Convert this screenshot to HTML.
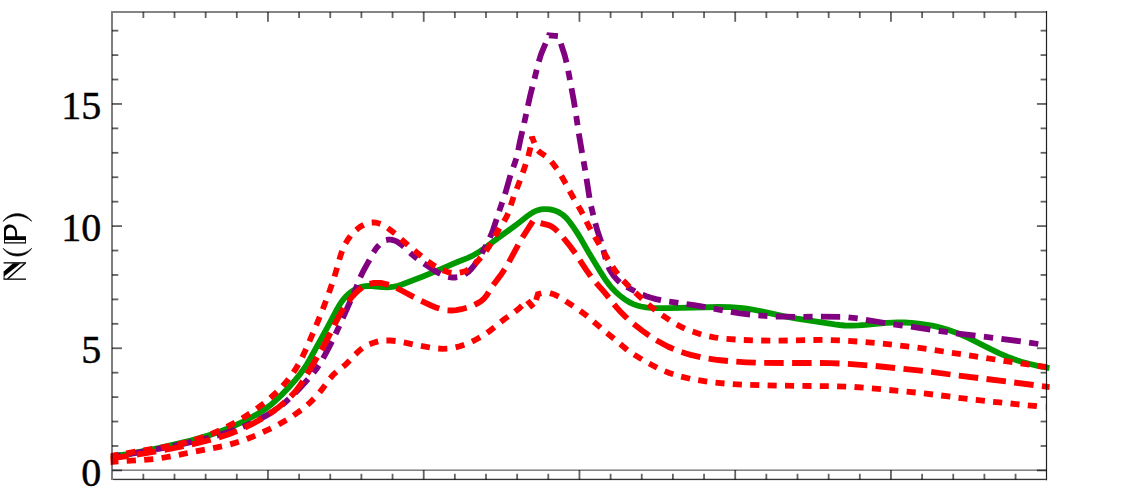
<!DOCTYPE html>
<html><head><meta charset="utf-8"><title>N(P)</title>
<style>
html,body{margin:0;padding:0;background:#fff;}
body{width:1148px;height:493px;overflow:hidden;font-family:"Liberation Serif",serif;}
svg{display:block;}
</style></head>
<body>
<svg width="1148" height="493" viewBox="0 0 1148 493">
<rect x="0" y="0" width="1148" height="493" fill="#ffffff"/>
<defs><clipPath id="cp"><rect x="110.7" y="0" width="939.1" height="493"/></clipPath></defs>
<g clip-path="url(#cp)">
<path d="M109.3 456.5L121.2 455.0L129.1 453.8L137.0 452.4L145.9 450.7L158.6 448.0L180.1 443.1L190.8 440.5L200.5 437.9L208.1 435.6L215.8 433.1L223.3 430.3L229.8 427.7L236.2 424.9L242.6 422.0L249.7 418.3L255.9 414.9L261.9 411.3L266.8 407.9L271.5 404.2L276.1 400.2L281.8 394.6L289.4 386.7L295.4 379.9L299.8 374.5L304.5 368.0L307.2 363.8L309.7 359.5L328.1 326.1L336.5 310.2L339.5 305.0L342.3 300.8L345.5 297.0L348.3 294.1L351.5 291.6L354.9 289.5L357.6 288.2L361.4 286.9L365.4 286.2L368.4 286.0L371.4 286.0L382.3 287.2L387.3 287.4L390.3 287.2L392.3 287.0L395.3 286.4L398.2 285.7L402.0 284.4L423.5 276.2L442.0 268.6L456.8 262.3L467.9 257.9L471.6 256.2L475.1 254.3L478.5 252.3L482.7 249.5L497.9 238.1L515.8 225.2L526.8 216.5L530.9 213.6L534.4 211.5L537.1 210.4L540.0 209.6L543.0 209.2L546.1 209.1L550.1 209.4L553.0 210.1L555.9 211.0L558.6 212.2L561.3 213.8L563.7 215.6L565.9 217.6L567.9 219.8L570.4 223.0L573.9 227.9L577.2 232.9L580.4 238.0L589.3 253.6L600.8 272.4L605.7 280.0L609.9 285.6L612.5 288.6L616.0 292.2L619.0 294.9L622.9 298.0L626.3 300.3L629.7 302.4L633.3 304.1L637.1 305.5L641.0 306.5L645.9 307.3L650.9 307.8L656.9 308.1L667.9 308.1L719.0 307.0L730.0 307.2L740.0 307.9L747.0 308.7L754.9 310.0L761.7 311.4L783.3 316.1L797.0 318.7L834.7 324.4L839.6 325.0L844.6 325.5L851.6 325.7L858.6 325.4L865.6 324.9L886.6 322.9L892.6 322.6L897.5 322.5L904.6 322.5L911.6 322.9L918.6 323.6L925.5 324.5L933.4 325.9L941.2 327.7L947.9 329.7L955.5 332.4L962.0 335.1L969.3 338.4L990.7 349.2L998.9 353.1L1007.2 356.6L1014.7 359.5L1021.3 361.7L1029.0 363.8L1037.8 365.8L1049.6 368.2" fill="none" stroke="#009900" stroke-width="5.8"/>
<path d="M111.6 456.8L120.6 455.4M128.7 454.1L147.8 450.9M155.9 449.4L165.0 447.7M173.0 446.1L191.9 441.9M199.9 440.0L208.9 437.8M216.8 435.6L225.9 432.9L235.2 429.8M242.9 426.8L251.4 423.2M258.8 419.7L267.4 414.9L271.6 412.3L275.4 409.8M282.0 404.9L285.3 402.2L289.0 398.9M294.9 393.2L300.4 387.5L308.1 379.1M313.5 372.8L316.2 369.3L318.9 365.4M323.1 358.4L327.4 350.4L332.0 341.4M335.6 334.0L339.4 325.7M342.7 318.3L350.5 300.8M353.8 293.3L357.3 284.9M360.3 277.3L363.3 271.0L369.5 259.9M373.5 252.3L376.1 248.4L377.4 246.8L379.2 244.9M386.1 240.1L388.0 239.7L390.1 239.6L392.1 239.9L395.0 240.7L396.9 241.6L399.4 243.2L401.8 245.1L403.9 246.9M410.1 252.8L413.6 255.9L417.2 258.8M424.0 263.5L434.1 270.3L437.5 272.4L440.4 273.9M448.2 276.9L450.8 277.4L452.8 277.5L454.8 277.5L457.3 277.2M464.8 274.3L466.9 272.9L468.5 271.7L471.4 268.9L474.5 265.0L477.5 260.4M481.7 253.3L486.2 245.3M489.9 237.7L491.4 234.2L493.2 229.5L496.6 219.1M499.2 211.1L502.3 202.2M505.0 194.2L506.4 189.5L510.4 175.2M513.3 167.2L514.9 162.8L516.3 158.4M518.2 150.3L520.2 140.4L522.3 131.2M524.2 123.0L526.2 113.9M527.9 105.8L530.0 96.4L532.4 86.8M534.5 78.7L536.7 69.7M538.8 61.6L540.3 56.6L541.6 52.8L545.6 43.4M548.9 35.6L549.0 35.3L557.9 36.2M560.9 43.6L564.7 55.4L566.5 62.5M568.2 70.8L570.0 80.0M571.5 88.2L573.4 98.6L574.9 107.6M576.2 116.0L577.6 125.2M578.8 133.5L582.1 152.9M583.6 161.3L585.2 170.5M586.5 178.7L589.5 197.9M591.1 206.2L593.3 215.2M595.3 223.2L597.4 230.7L601.2 241.9M603.4 250.0L605.7 259.0M608.4 266.8L609.3 268.9L610.8 271.6L613.6 275.8L616.9 279.6L619.8 282.3M626.8 287.0L635.0 291.3M642.5 294.8L646.4 296.3L651.2 297.8L656.0 299.1L661.0 300.2M669.2 301.6L678.4 302.8M686.5 304.0L695.6 305.4L705.6 307.2M713.8 308.7L722.8 310.4M730.9 311.8L740.0 313.3L750.1 314.5M758.4 315.4L767.5 316.1M775.8 316.5L785.0 316.7L795.1 316.8M803.4 316.8L812.6 316.7M820.9 316.7L840.2 316.8M848.5 317.3L857.7 318.4M865.9 319.8L885.2 323.0M893.5 324.3L902.7 325.6M911.0 326.7L930.3 329.6M938.7 330.8L947.9 332.2M956.1 333.3L975.5 335.7M983.9 336.7L993.1 337.8M1001.4 338.8L1020.8 341.4M1029.1 342.6L1038.3 344.0" fill="none" stroke="#800080" stroke-width="5.8" stroke-linejoin="miter"/>
<path d="M109.3 456.2L118.3 454.7M126.4 453.3L135.4 451.7M143.6 450.4L152.6 448.9M160.8 447.5L169.7 445.9M177.9 444.3L186.7 442.1M194.7 439.9L203.3 437.0M211.1 434.1L219.5 430.5M226.9 426.9L235.0 422.6M242.1 418.4L249.8 413.5M256.6 408.8L263.9 403.3M270.3 398.0L277.0 391.9M282.7 385.9L285.6 382.6L288.6 379.0M293.5 372.3L295.7 368.9L298.3 364.5M302.2 357.2L306.1 349.0M309.4 341.4L313.0 333.0M316.2 325.4L319.7 316.9M322.8 309.2L326.0 300.7M328.9 292.9L331.9 284.3M334.5 276.5L337.1 267.7M339.3 259.7L340.6 255.3L342.1 251.1M345.5 243.5L347.7 239.8L350.5 235.9M356.2 229.9L358.5 228.0L360.2 226.8L363.7 224.9M371.7 222.5L373.6 222.4L375.6 222.6L378.5 223.2L380.5 223.9M387.7 228.0L390.8 230.3L394.9 233.6M401.2 239.1L408.0 245.1M414.4 250.4L421.4 256.2M427.9 261.3L431.8 264.1L435.4 266.5M442.8 270.3L447.0 271.8L448.9 272.3L451.5 272.7M459.8 272.7L462.1 272.2L464.0 271.6L465.8 270.9L468.2 269.5M474.6 264.3L477.5 261.3L480.8 257.5M485.9 251.0L488.7 247.1L490.9 243.5M495.0 236.2L499.5 228.3M504.0 221.3L506.5 216.9L508.2 213.3M510.8 205.4L513.6 196.8M516.7 189.0L520.0 180.5M522.8 172.7L525.7 164.1M528.3 156.2L529.5 151.6L530.4 147.4M531.7 139.2L532.0 136.8L534.3 143.1M538.0 150.5L539.5 151.9L545.3 155.8M551.3 161.6L553.7 164.5L556.8 168.8M561.3 175.8L565.8 183.7M569.6 191.0L574.1 199.0M578.3 206.1L580.7 210.2L582.7 214.1M586.4 221.5L590.6 229.6M594.8 236.7L599.4 244.6M603.5 251.8L608.1 259.7M612.5 266.7L614.9 270.3L617.8 274.1M623.2 280.4L629.5 287.0M635.4 292.7L642.1 298.9M648.3 304.5L655.3 310.2M662.1 315.1L669.6 320.1M676.7 324.5L680.7 326.6L684.8 328.6M692.6 331.6L701.2 334.4M709.3 336.4L714.0 337.3L718.2 338.0M726.5 338.9L735.6 339.5M743.8 340.0L752.9 340.3M761.2 340.5L770.3 340.6M778.6 340.6L787.7 340.5M796.0 340.3L805.1 340.1M813.4 340.0L822.5 339.9M830.8 340.1L839.9 340.4M848.2 340.9L857.3 341.5M865.6 342.1L874.6 342.9M882.9 343.7L891.9 344.7M900.2 345.6L909.2 346.6M917.5 347.7L926.5 348.9M934.7 350.2L943.7 351.5M951.9 352.8L960.9 354.1M969.1 355.4L978.1 356.8M986.3 358.1L995.3 359.5M1003.5 360.8L1012.5 362.1M1020.7 363.4L1029.7 364.7M1037.9 365.9L1046.9 367.2" fill="none" stroke="#ff0000" stroke-width="5.8" stroke-linejoin="miter"/>
<path d="M109.3 458.7L128.6 455.9M136.9 454.6L156.1 451.5M164.4 450.0L183.5 446.2M191.7 444.4L202.0 442.0L210.7 439.8M218.8 437.5L228.0 434.5L237.1 431.0M244.8 427.6L253.7 423.2L262.1 418.5M269.2 414.0L273.3 411.2L277.4 408.2L281.3 405.1L284.7 402.3M290.8 396.5L293.7 393.3L296.9 389.5L299.9 385.5L302.8 381.2M307.2 374.0L317.2 357.2M321.4 350.0L326.0 341.5L330.5 332.8M334.3 325.2L339.2 315.6L343.7 308.2M348.5 301.3L351.6 297.4L355.0 293.7L358.7 290.2L362.1 287.5M369.6 283.8L371.8 283.3L373.8 283.0L375.9 282.8L378.9 282.9L380.9 283.0L383.9 283.6L388.8 284.9M396.6 288.0L402.5 291.0L413.9 297.1M421.3 300.9L426.5 303.4L431.1 305.5L435.8 307.4L439.3 308.5M447.5 310.3L451.5 310.5L456.4 310.2L461.3 309.2L466.7 307.8M474.5 304.8L478.6 302.7L481.1 301.1L482.7 299.8L484.1 298.5L485.4 297.0L487.2 294.6L488.7 292.1M493.3 285.0L500.9 274.8L504.7 269.2M509.0 262.0L518.2 244.8M522.4 237.5L532.9 221.1M540.6 223.1L547.6 224.9L549.5 225.5L551.3 226.4L553.1 227.4L554.7 228.6L557.7 231.5M563.3 237.8L570.5 246.7L575.3 253.2M579.8 260.2L585.7 269.2L590.8 276.4M596.1 282.9L603.9 291.7L608.8 297.7M614.0 304.3L617.2 308.1L620.5 311.8L624.1 315.4L627.3 318.5M633.7 323.9L641.7 330.3L649.2 335.7M656.3 340.2L664.5 344.8L669.0 347.0L673.7 349.1M681.5 352.1L685.9 353.5L690.7 354.9L700.4 357.1M708.6 358.6L718.3 360.0L728.0 361.0M736.3 361.7L746.3 362.3L755.8 362.7M764.2 362.9L783.7 363.0M792.1 363.0L811.6 363.0M820.0 363.0L830.5 363.1L839.5 363.5M847.9 363.9L867.3 365.3M875.7 366.0L895.1 368.0M903.5 368.8L922.9 370.8M931.2 371.9L950.5 374.5M958.8 375.6L978.2 378.0M986.5 379.0L1005.9 381.4M1014.2 382.5L1033.6 385.0M1041.9 386.1L1049.7 387.1" fill="none" stroke="#ff0000" stroke-width="5.8" stroke-linejoin="miter"/>
<path d="M109.3 462.2L118.4 461.4M126.7 460.8L135.9 460.3M144.2 459.9L153.3 459.1M161.6 458.0L170.6 456.4M178.8 454.8L187.7 453.0M195.9 451.3L204.9 449.6M213.1 448.1L222.0 446.3M230.2 444.4L238.9 441.8M246.8 439.0L255.3 435.6M262.9 432.2L271.1 428.3M278.6 424.5L286.5 420.0M293.5 415.5L301.0 410.2M307.4 404.9L310.5 402.1L314.0 398.6M319.6 392.4L322.0 389.4L325.2 385.1M330.1 378.4L333.0 375.0L336.4 371.8M343.0 366.7L346.1 364.1L349.7 360.4M355.4 354.3L358.7 351.1L362.2 348.3M369.5 344.2L373.5 342.7L378.2 341.4M386.4 340.5L390.4 340.5L395.6 341.0M403.8 342.4L412.7 344.3M420.9 345.9L429.9 347.5M438.2 348.5L442.9 348.8L447.3 348.6M455.6 347.4L459.8 346.3L464.3 344.8M472.0 341.6L475.6 339.8L480.1 337.3M487.1 332.8L490.8 330.1L494.4 327.3M500.8 322.0L504.1 319.4L508.2 316.5M515.0 311.8L518.7 308.8L521.9 305.7M527.4 300.5L533.4 307.7M536.1 300.0L537.9 294.1L541.3 293.2M550.0 293.1L552.7 293.9L554.6 294.6L558.7 296.6M565.7 301.1L573.2 306.2M580.1 310.8L583.3 313.1L587.4 316.3M593.7 321.7L600.6 327.6M607.0 332.9L614.0 338.7M620.2 344.1L627.3 349.9M634.1 354.6L641.9 359.4M649.1 363.5L657.1 367.7M664.7 371.1L669.3 372.9L673.3 374.2M681.2 376.6L690.1 378.7M698.2 380.2L707.2 381.6M715.5 382.6L724.5 383.5M732.8 384.1L741.9 384.6M750.2 384.9L759.3 385.2M767.6 385.4L776.7 385.6M785.0 385.7L794.1 385.9M802.4 385.9L811.5 386.0M819.8 386.1L828.8 386.2M837.1 386.3L846.2 386.6M854.5 387.0L863.6 387.7M871.9 388.4L881.0 389.2M889.3 390.0L898.3 390.8M906.6 391.6L915.7 392.5M923.9 393.4L933.0 394.5M941.2 395.5L950.3 396.7M958.5 397.8L967.5 398.9M975.8 399.9L984.9 400.9M993.1 401.8L1002.2 402.7M1010.5 403.5L1019.5 404.5M1027.8 405.3L1036.9 406.2M1045.1 407.1L1045.3 407.1" fill="none" stroke="#ff0000" stroke-width="5.8" stroke-linejoin="miter"/>
</g>
<rect x="113.00" y="469.45" width="932.90" height="1.50" fill="rgba(0,0,0,0.51)"/>
<rect x="142.45" y="473.80" width="1.80" height="5.70" fill="rgba(0,0,0,0.615)"/>
<rect x="142.45" y="12.00" width="1.80" height="6.00" fill="rgba(0,0,0,0.615)"/>
<rect x="173.60" y="473.80" width="1.80" height="5.70" fill="rgba(0,0,0,0.615)"/>
<rect x="173.60" y="12.00" width="1.80" height="6.00" fill="rgba(0,0,0,0.615)"/>
<rect x="204.75" y="473.80" width="1.80" height="5.70" fill="rgba(0,0,0,0.615)"/>
<rect x="204.75" y="12.00" width="1.80" height="6.00" fill="rgba(0,0,0,0.615)"/>
<rect x="235.90" y="473.80" width="1.80" height="5.70" fill="rgba(0,0,0,0.615)"/>
<rect x="235.90" y="12.00" width="1.80" height="6.00" fill="rgba(0,0,0,0.615)"/>
<rect x="267.05" y="470.00" width="1.80" height="9.50" fill="rgba(0,0,0,0.615)"/>
<rect x="267.05" y="12.00" width="1.80" height="9.80" fill="rgba(0,0,0,0.615)"/>
<rect x="298.20" y="473.80" width="1.80" height="5.70" fill="rgba(0,0,0,0.615)"/>
<rect x="298.20" y="12.00" width="1.80" height="6.00" fill="rgba(0,0,0,0.615)"/>
<rect x="329.35" y="473.80" width="1.80" height="5.70" fill="rgba(0,0,0,0.615)"/>
<rect x="329.35" y="12.00" width="1.80" height="6.00" fill="rgba(0,0,0,0.615)"/>
<rect x="360.50" y="473.80" width="1.80" height="5.70" fill="rgba(0,0,0,0.615)"/>
<rect x="360.50" y="12.00" width="1.80" height="6.00" fill="rgba(0,0,0,0.615)"/>
<rect x="391.65" y="473.80" width="1.80" height="5.70" fill="rgba(0,0,0,0.615)"/>
<rect x="391.65" y="12.00" width="1.80" height="6.00" fill="rgba(0,0,0,0.615)"/>
<rect x="422.80" y="470.00" width="1.80" height="9.50" fill="rgba(0,0,0,0.615)"/>
<rect x="422.80" y="12.00" width="1.80" height="9.80" fill="rgba(0,0,0,0.615)"/>
<rect x="453.95" y="473.80" width="1.80" height="5.70" fill="rgba(0,0,0,0.615)"/>
<rect x="453.95" y="12.00" width="1.80" height="6.00" fill="rgba(0,0,0,0.615)"/>
<rect x="485.10" y="473.80" width="1.80" height="5.70" fill="rgba(0,0,0,0.615)"/>
<rect x="485.10" y="12.00" width="1.80" height="6.00" fill="rgba(0,0,0,0.615)"/>
<rect x="516.25" y="473.80" width="1.80" height="5.70" fill="rgba(0,0,0,0.615)"/>
<rect x="516.25" y="12.00" width="1.80" height="6.00" fill="rgba(0,0,0,0.615)"/>
<rect x="547.40" y="473.80" width="1.80" height="5.70" fill="rgba(0,0,0,0.615)"/>
<rect x="547.40" y="12.00" width="1.80" height="6.00" fill="rgba(0,0,0,0.615)"/>
<rect x="578.55" y="470.00" width="1.80" height="9.50" fill="rgba(0,0,0,0.615)"/>
<rect x="578.55" y="12.00" width="1.80" height="9.80" fill="rgba(0,0,0,0.615)"/>
<rect x="609.70" y="473.80" width="1.80" height="5.70" fill="rgba(0,0,0,0.615)"/>
<rect x="609.70" y="12.00" width="1.80" height="6.00" fill="rgba(0,0,0,0.615)"/>
<rect x="640.85" y="473.80" width="1.80" height="5.70" fill="rgba(0,0,0,0.615)"/>
<rect x="640.85" y="12.00" width="1.80" height="6.00" fill="rgba(0,0,0,0.615)"/>
<rect x="672.00" y="473.80" width="1.80" height="5.70" fill="rgba(0,0,0,0.615)"/>
<rect x="672.00" y="12.00" width="1.80" height="6.00" fill="rgba(0,0,0,0.615)"/>
<rect x="703.15" y="473.80" width="1.80" height="5.70" fill="rgba(0,0,0,0.615)"/>
<rect x="703.15" y="12.00" width="1.80" height="6.00" fill="rgba(0,0,0,0.615)"/>
<rect x="734.30" y="470.00" width="1.80" height="9.50" fill="rgba(0,0,0,0.615)"/>
<rect x="734.30" y="12.00" width="1.80" height="9.80" fill="rgba(0,0,0,0.615)"/>
<rect x="765.45" y="473.80" width="1.80" height="5.70" fill="rgba(0,0,0,0.615)"/>
<rect x="765.45" y="12.00" width="1.80" height="6.00" fill="rgba(0,0,0,0.615)"/>
<rect x="796.60" y="473.80" width="1.80" height="5.70" fill="rgba(0,0,0,0.615)"/>
<rect x="796.60" y="12.00" width="1.80" height="6.00" fill="rgba(0,0,0,0.615)"/>
<rect x="827.75" y="473.80" width="1.80" height="5.70" fill="rgba(0,0,0,0.615)"/>
<rect x="827.75" y="12.00" width="1.80" height="6.00" fill="rgba(0,0,0,0.615)"/>
<rect x="858.90" y="473.80" width="1.80" height="5.70" fill="rgba(0,0,0,0.615)"/>
<rect x="858.90" y="12.00" width="1.80" height="6.00" fill="rgba(0,0,0,0.615)"/>
<rect x="890.05" y="470.00" width="1.80" height="9.50" fill="rgba(0,0,0,0.615)"/>
<rect x="890.05" y="12.00" width="1.80" height="9.80" fill="rgba(0,0,0,0.615)"/>
<rect x="921.20" y="473.80" width="1.80" height="5.70" fill="rgba(0,0,0,0.615)"/>
<rect x="921.20" y="12.00" width="1.80" height="6.00" fill="rgba(0,0,0,0.615)"/>
<rect x="952.35" y="473.80" width="1.80" height="5.70" fill="rgba(0,0,0,0.615)"/>
<rect x="952.35" y="12.00" width="1.80" height="6.00" fill="rgba(0,0,0,0.615)"/>
<rect x="983.50" y="473.80" width="1.80" height="5.70" fill="rgba(0,0,0,0.615)"/>
<rect x="983.50" y="12.00" width="1.80" height="6.00" fill="rgba(0,0,0,0.615)"/>
<rect x="1014.65" y="473.80" width="1.80" height="5.70" fill="rgba(0,0,0,0.615)"/>
<rect x="1014.65" y="12.00" width="1.80" height="6.00" fill="rgba(0,0,0,0.615)"/>
<rect x="112.00" y="469.50" width="10.00" height="1.80" fill="rgba(0,0,0,0.615)"/>
<rect x="1036.90" y="469.50" width="9.60" height="1.80" fill="rgba(0,0,0,0.615)"/>
<rect x="112.00" y="445.07" width="6.30" height="1.80" fill="rgba(0,0,0,0.615)"/>
<rect x="1040.60" y="445.07" width="5.90" height="1.80" fill="rgba(0,0,0,0.615)"/>
<rect x="112.00" y="420.64" width="6.30" height="1.80" fill="rgba(0,0,0,0.615)"/>
<rect x="1040.60" y="420.64" width="5.90" height="1.80" fill="rgba(0,0,0,0.615)"/>
<rect x="112.00" y="396.21" width="6.30" height="1.80" fill="rgba(0,0,0,0.615)"/>
<rect x="1040.60" y="396.21" width="5.90" height="1.80" fill="rgba(0,0,0,0.615)"/>
<rect x="112.00" y="371.78" width="6.30" height="1.80" fill="rgba(0,0,0,0.615)"/>
<rect x="1040.60" y="371.78" width="5.90" height="1.80" fill="rgba(0,0,0,0.615)"/>
<rect x="112.00" y="347.35" width="10.00" height="1.80" fill="rgba(0,0,0,0.615)"/>
<rect x="1036.90" y="347.35" width="9.60" height="1.80" fill="rgba(0,0,0,0.615)"/>
<rect x="112.00" y="322.92" width="6.30" height="1.80" fill="rgba(0,0,0,0.615)"/>
<rect x="1040.60" y="322.92" width="5.90" height="1.80" fill="rgba(0,0,0,0.615)"/>
<rect x="112.00" y="298.49" width="6.30" height="1.80" fill="rgba(0,0,0,0.615)"/>
<rect x="1040.60" y="298.49" width="5.90" height="1.80" fill="rgba(0,0,0,0.615)"/>
<rect x="112.00" y="274.06" width="6.30" height="1.80" fill="rgba(0,0,0,0.615)"/>
<rect x="1040.60" y="274.06" width="5.90" height="1.80" fill="rgba(0,0,0,0.615)"/>
<rect x="112.00" y="249.63" width="6.30" height="1.80" fill="rgba(0,0,0,0.615)"/>
<rect x="1040.60" y="249.63" width="5.90" height="1.80" fill="rgba(0,0,0,0.615)"/>
<rect x="112.00" y="225.20" width="10.00" height="1.80" fill="rgba(0,0,0,0.615)"/>
<rect x="1036.90" y="225.20" width="9.60" height="1.80" fill="rgba(0,0,0,0.615)"/>
<rect x="112.00" y="200.77" width="6.30" height="1.80" fill="rgba(0,0,0,0.615)"/>
<rect x="1040.60" y="200.77" width="5.90" height="1.80" fill="rgba(0,0,0,0.615)"/>
<rect x="112.00" y="176.34" width="6.30" height="1.80" fill="rgba(0,0,0,0.615)"/>
<rect x="1040.60" y="176.34" width="5.90" height="1.80" fill="rgba(0,0,0,0.615)"/>
<rect x="112.00" y="151.91" width="6.30" height="1.80" fill="rgba(0,0,0,0.615)"/>
<rect x="1040.60" y="151.91" width="5.90" height="1.80" fill="rgba(0,0,0,0.615)"/>
<rect x="112.00" y="127.48" width="6.30" height="1.80" fill="rgba(0,0,0,0.615)"/>
<rect x="1040.60" y="127.48" width="5.90" height="1.80" fill="rgba(0,0,0,0.615)"/>
<rect x="112.00" y="103.05" width="10.00" height="1.80" fill="rgba(0,0,0,0.615)"/>
<rect x="1036.90" y="103.05" width="9.60" height="1.80" fill="rgba(0,0,0,0.615)"/>
<rect x="112.00" y="78.62" width="6.30" height="1.80" fill="rgba(0,0,0,0.615)"/>
<rect x="1040.60" y="78.62" width="5.90" height="1.80" fill="rgba(0,0,0,0.615)"/>
<rect x="112.00" y="54.19" width="6.30" height="1.80" fill="rgba(0,0,0,0.615)"/>
<rect x="1040.60" y="54.19" width="5.90" height="1.80" fill="rgba(0,0,0,0.615)"/>
<rect x="112.00" y="29.76" width="6.30" height="1.80" fill="rgba(0,0,0,0.615)"/>
<rect x="1040.60" y="29.76" width="5.90" height="1.80" fill="rgba(0,0,0,0.615)"/>
<rect x="111.00" y="11.00" width="2.00" height="469.00" fill="rgba(0,0,0,0.5)"/>
<rect x="113.00" y="11.00" width="934.00" height="2.00" fill="rgba(0,0,0,0.48)"/>
<rect x="1045.90" y="11.00" width="1.20" height="469.30" fill="rgba(0,0,0,0.87)"/>
<rect x="113.00" y="478.75" width="932.90" height="1.35" fill="rgba(0,0,0,0.79)"/>
<text x="101.2" y="485.6" text-anchor="end" font-size="40" font-family="Liberation Serif, serif" fill="#000" stroke="#000" stroke-width="0.45">0</text>
<text x="101.2" y="363.4" text-anchor="end" font-size="40" font-family="Liberation Serif, serif" fill="#000" stroke="#000" stroke-width="0.45">5</text>
<text x="101.2" y="241.3" text-anchor="end" font-size="40" font-family="Liberation Serif, serif" fill="#000" stroke="#000" stroke-width="0.45">10</text>
<text x="101.2" y="119.1" text-anchor="end" font-size="40" font-family="Liberation Serif, serif" fill="#000" stroke="#000" stroke-width="0.45">15</text>

<g fill="#000" stroke="none">
<!-- ")" top -->
<path d="M3.2 221.3C10 211.2 24.8 211.2 31.6 221.3C24.4 213.9 10.4 213.9 3.2 221.3Z" stroke="#000" stroke-width="0.7" stroke-linejoin="round"/>
<!-- double-struck P -->
<path fill-rule="evenodd" d="M4 236.3V229.5C4 226.3 6.6 224.5 9.8 224.5C14 224.5 17.1 228 17.1 233V236.3H26V243.4H4ZM6 236.3H15.1V232.8C15.1 229.6 13.2 227.6 10.6 227.6C8 227.6 6 229.2 6 231.8ZM4.9 240V242.2H25.1V240Z"/>
<!-- "(" -->
<path d="M3.2 248.4C10 258.5 24.8 258.5 31.6 248.4C24.4 255.8 10.4 255.8 3.2 248.4Z" stroke="#000" stroke-width="0.7" stroke-linejoin="round"/>
<!-- double-struck N -->
<rect x="3.6" y="262.2" width="22.4" height="1.3"/>
<rect x="3.6" y="278.5" width="22.4" height="1.3"/>
<rect x="3.6" y="271.2" width="0.9" height="8"/>
<path d="M13 263.3H20.7L4.05 276.6V271.2Z"/>
<path d="M24 263.3H26.2L8.8 278.7H6.6Z"/>
</g>

</svg>
</body></html>
